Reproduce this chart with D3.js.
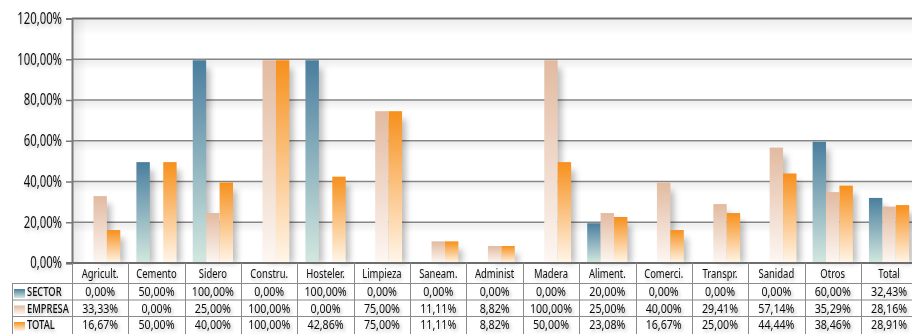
<!DOCTYPE html>
<html><head><meta charset="utf-8">
<script src="https://cdn.jsdelivr.net/npm/d3@7"></script>
<style>
html,body{margin:0;padding:0;background:#fff;overflow:hidden}
text{font-family:"Noto Sans","Open Sans","DejaVu Sans",sans-serif;fill:#111}
</style></head>
<body>
<svg id="c" width="912" height="334"></svg>
<script>
const categories = ["Agricult.","Cemento","Sidero","Constru.","Hosteler.","Limpieza","Saneam.","Administ","Madera","Aliment.","Comerci.","Transpr.","Sanidad","Otros","Total"];
const seriesNames = ["SECTOR","EMPRESA","TOTAL"];
const sectorValues  = [0,50,100,0,100,0,0,0,0,20,0,0,0,60,32.43];
const empresaValues = [33.33,0,25,100,0,75,11.11,8.82,100,25,40,29.41,57.14,35.29,28.16];
const totalValues   = [16.67,50,40,100,42.86,75,11.11,8.82,50,23.08,16.67,25,44.44,38.46,28.91];
const yTicks = [0,20,40,60,80,100,120];

(function(){
const seriesValues = [sectorValues, empresaValues, totalValues];
const colors = {SECTOR:["#4a7e9e","#d3e8df"], EMPRESA:["#e2baa0","#fdf7f3"], TOTAL:["#f7901c","#fff6ea"]};

const loc = d3.formatLocale({decimal:",", thousands:".", grouping:[3], currency:["","€"]});
const fmt = v => loc.format(".2f")(v) + "%";

const svg = d3.select("#c");
const defs = svg.append("defs");
seriesNames.forEach((s,i)=>{
  const g = defs.append("linearGradient").attr("id","g"+i).attr("x1",0).attr("y1",0).attr("x2",0).attr("y2",1);
  g.append("stop").attr("offset","0%").attr("stop-color",colors[s][0]);
  g.append("stop").attr("offset","100%").attr("stop-color",colors[s][1]);
});
const sh = defs.append("linearGradient").attr("id","gshadow").attr("x1",0).attr("y1",0).attr("x2",0).attr("y2",1);
sh.append("stop").attr("offset","0%").attr("stop-color","#000").attr("stop-opacity",0.07);
sh.append("stop").attr("offset","100%").attr("stop-color","#000").attr("stop-opacity",0);
const shx = defs.append("linearGradient").attr("id","gshadowx").attr("x1",0).attr("y1",0).attr("x2",1).attr("y2",0);
shx.append("stop").attr("offset","0%").attr("stop-color","#000").attr("stop-opacity",0.08);
shx.append("stop").attr("offset","100%").attr("stop-color","#000").attr("stop-opacity",0);
const blur = defs.append("filter").attr("id","blur").attr("x","-50%").attr("y","-50%").attr("width","200%").attr("height","200%");
blur.append("feGaussianBlur").attr("stdDeviation",3);
const ts = defs.append("filter").attr("id","tshadow").attr("x","-20%").attr("y","-50%").attr("width","140%").attr("height","200%");
ts.append("feGaussianBlur").attr("in","SourceAlpha").attr("stdDeviation",2).attr("result","b");
ts.append("feOffset").attr("in","b").attr("dx",2).attr("dy",2).attr("result","o");
ts.append("feComponentTransfer").attr("in","o").attr("result","o2").append("feFuncA").attr("type","linear").attr("slope",0.3);
const m = ts.append("feMerge"); m.append("feMergeNode").attr("in","o2"); m.append("feMergeNode").attr("in","SourceGraphic");

const left = 72, step = 56.35, plotTop = 18.5, base = 263;
const x0 = d3.scaleBand().domain(categories).range([left, left + step*categories.length]).paddingInner(0).paddingOuter(0);
const x1 = d3.scaleBand().domain(seriesNames).range([0, x0.bandwidth()]).paddingInner(0).paddingOuter(0.6);
const y = d3.scaleLinear().domain([0,120]).range([base, plotTop]);

function place(sel, fx, fy, sx){
  sel.attr("transform",(d,i)=>`translate(${fx(d,i)},${fy(d,i)}) scale(${sx},1)`);
}

// gridline shadows
svg.append("g").selectAll("rect").data(yTicks.filter(t=>t>0)).join("rect")
  .attr("x",left).attr("y",d=>y(d)+1).attr("width",912-left).attr("height",d=>d===120?16:10)
  .attr("fill","url(#gshadow)");
svg.append("rect").attr("x",left+1).attr("y",plotTop).attr("width",14).attr("height",base-plotTop).attr("fill","url(#gshadowx)");
// gridlines
svg.append("g").selectAll("line").data(yTicks.filter(t=>t>0)).join("line")
  .attr("x1",left).attr("x2",912).attr("y1",d=>y(d)).attr("y2",d=>y(d))
  .attr("stroke",d=>d===120?"#6e6e6e":"#858585").attr("stroke-width",d=>d===120?2:1.5);

// bars data
const barData = [];
categories.forEach((c,ci)=>seriesNames.forEach((s,si)=>{
  const v = seriesValues[si][ci];
  if (v>0) barData.push({c,s,si,v});
}));
// shadows
svg.append("g").attr("filter","url(#blur)").selectAll("rect").data(barData).join("rect")
  .attr("x",d=>x0(d.c)+x1(d.s)+6).attr("y",d=>y(d.v)+9)
  .attr("width",x1.bandwidth()-2).attr("height",d=>base-y(d.v)-9)
  .attr("fill","#000").attr("opacity",0.26);
// bars
svg.append("g").selectAll("rect").data(barData).join("rect")
  .attr("x",d=>x0(d.c)+x1(d.s)).attr("y",d=>y(d.v)+1)
  .attr("width",x1.bandwidth()).attr("height",d=>base-y(d.v)-1)
  .attr("fill",d=>`url(#g${d.si})`);

// y axis
const tickScale = 0.73;
const ya = svg.append("g").attr("transform",`translate(${left},0)`)
  .call(d3.axisLeft(y).tickValues(yTicks).tickSize(6).tickPadding(4).tickFormat(fmt));
ya.select(".domain").attr("stroke","#777").attr("stroke-width",2);
ya.selectAll(".tick line").attr("stroke","#777").attr("stroke-width",1.5);
ya.selectAll(".tick text").attr("font-size",15.5).attr("fill","#111").attr("filter","url(#tshadow)")
  .attr("x",-10/tickScale).attr("transform",`scale(${tickScale},1)`)
  .style("font-family",'"Noto Sans","Open Sans",sans-serif');

// baseline
svg.append("line").attr("x1",left-6).attr("x2",912).attr("y1",base).attr("y2",base).attr("stroke","#6e6e6e").attr("stroke-width",2);

// table
const rowTops = [283.5,300,316.5];
const tbl = svg.append("g");
const lineCol = "#8a8a8a";
rowTops.forEach(yy=>{
  tbl.append("line").attr("x1",12).attr("x2",912).attr("y1",yy).attr("y2",yy).attr("stroke",lineCol);
});
tbl.append("line").attr("x1",12.5).attr("x2",12.5).attr("y1",283.5).attr("y2",334).attr("stroke",lineCol);
tbl.selectAll("line.v").data(categories).join("line").attr("class","v")
  .attr("x1",d=>Math.round(x0(d))+0.5).attr("x2",d=>Math.round(x0(d))+0.5)
  .attr("y1",263).attr("y2",334).attr("stroke",lineCol);

// header labels
tbl.selectAll("text.h").data(categories).join("text").attr("class","h")
  .attr("text-anchor","middle").attr("font-size",13.5).attr("filter","url(#tshadow)").text(d=>d)
  .call(place, d=>x0(d)+x0.bandwidth()/2, ()=>278, 0.7);

// row labels + keys
seriesNames.forEach((s,si)=>{
  const t = rowTops[si];
  tbl.append("rect").attr("x",14).attr("y",t+5.5).attr("width",11).attr("height",9).attr("fill",`url(#g${si})`);
  tbl.append("text").datum(s).attr("font-size",13).attr("font-weight",500).attr("filter","url(#tshadow)").text(s)
    .call(place, ()=>27, ()=>t+12.8, 0.72);
  tbl.append("g").selectAll("text").data(categories).join("text")
    .attr("text-anchor","middle").attr("font-size",13).attr("filter","url(#tshadow)")
    .text((d,ci)=>fmt(seriesValues[si][ci]))
    .call(place, d=>x0(d)+x0.bandwidth()/2, ()=>t+12.8, 0.82);
});
})();
</script>
</body></html>
